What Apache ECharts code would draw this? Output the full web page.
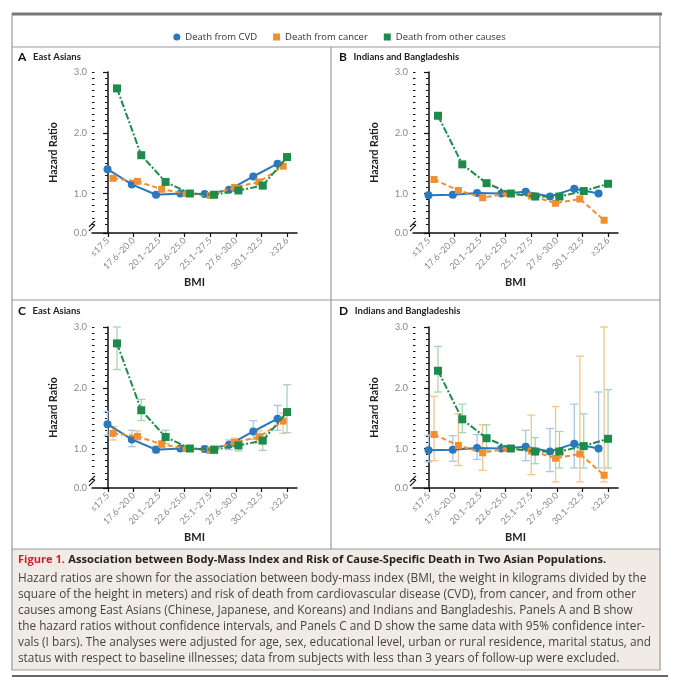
<!DOCTYPE html>
<html><head><meta charset="utf-8">
<script src="https://cdn.jsdelivr.net/npm/echarts@6/dist/echarts.min.js"></script>
<style>html,body{margin:0;padding:0;background:#fff}#c{width:679px;height:680px}</style>
</head><body><div id="c"></div>
<script>
// ---------- data ----------
const categories = ['≤17.5', '17.6–20.0', '20.1–22.5', '22.6–25.0', '25.1–27.5', '27.6–30.0', '30.1–32.5', '≥32.6'];
const seriesNames = ['Death from CVD', 'Death from cancer', 'Death from other causes'];
const yTickLabels = ['0.0', '1.0', '2.0', '3.0'];

// East Asians: hazard ratios
const eaCVD    = [1.40, 1.15, 0.98, 1.00, 0.99, 1.06, 1.28, 1.49];
const eaCancer = [1.25, 1.20, 1.07, 1.00, 0.97, 1.10, 1.19, 1.45];
const eaOther  = [2.73, 1.63, 1.19, 1.00, 0.98, 1.05, 1.13, 1.60];
// East Asians: 95% CI
const eaCVDLow     = [1.22, 1.03, 0.93, null, 0.94, 0.98, 1.15, 1.30];
const eaCVDHigh    = [1.61, 1.30, 1.04, null, 1.04, 1.14, 1.46, 1.71];
const eaCancerLow  = [1.14, 1.12, 1.01, null, 0.92, 1.03, 1.09, 1.25];
const eaCancerHigh = [1.36, 1.29, 1.13, null, 1.02, 1.17, 1.29, 1.58];
const eaOtherLow   = [2.30, 1.46, 1.08, null, 0.92, 0.96, 0.97, 1.26];
const eaOtherHigh  = [3.00, 1.81, 1.30, null, 1.04, 1.13, 1.24, 2.05];

// Indians and Bangladeshis: hazard ratios
const ibCVD    = [0.97, 0.98, 1.01, 1.00, 1.03, 0.95, 1.08, 1.00];
const ibCancer = [1.23, 1.05, 0.93, 1.00, 0.96, 0.84, 0.91, 0.56];
const ibOther  = [2.28, 1.48, 1.17, 1.00, 0.95, 0.95, 1.04, 1.16];
// Indians and Bangladeshis: 95% CI
const ibCVDLow     = [0.78, 0.79, 0.82, null, 0.80, 0.62, 0.68, 0.68];
const ibCVDHigh    = [1.22, 1.21, 1.23, null, 1.30, 1.33, 1.73, 1.93];
const ibCancerLow  = [0.80, 0.72, 0.64, null, 0.57, 0.45, 0.45, 0.45];
const ibCancerHigh = [1.86, 1.57, 1.39, null, 1.55, 1.69, 2.52, 3.00];
const ibOtherLow   = [1.93, 1.26, 0.97, null, 0.75, 0.68, 0.68, 0.68];
const ibOtherHigh  = [2.68, 1.73, 1.39, null, 1.18, 1.28, 1.57, 1.97];

// ---------- styling ----------
const FONT = 'Lato';
const CAP_FONT = 'Open Sans';
const colors = ['#2a78bd', '#ef8f2f', '#1e8a4c'];
const lightColors = ['#a9c7e4', '#f4c48f', '#a7d3b1'];
const xOffsets = [0, 0.23, 0.39];      // small horizontal dodge of the three series
const Y_MIN = 0.35, Y_MAX = 3.0;        // axis is broken below 1.0; bottom labelled 0.0

const panels = [
  {letter: 'A', title: 'East Asians', left: 92, top: 72, data: [eaCVD, eaCancer, eaOther], ci: null, tx: 18, ty: 51},
  {letter: 'B', title: 'Indians and Bangladeshis', left: 413, top: 72, data: [ibCVD, ibCancer, ibOther], ci: null, tx: 339, ty: 51},
  {letter: 'C', title: 'East Asians', left: 92, top: 327, data: [eaCVD, eaCancer, eaOther],
   ci: [[eaCVDLow, eaCVDHigh], [eaCancerLow, eaCancerHigh], [eaOtherLow, eaOtherHigh]], tx: 18, ty: 305},
  {letter: 'D', title: 'Indians and Bangladeshis', left: 413, top: 327, data: [ibCVD, ibCancer, ibOther],
   ci: [[ibCVDLow, ibCVDHigh], [ibCancerLow, ibCancerHigh], [ibOtherLow, ibOtherHigh]], tx: 339, ty: 305}
];
const GW = 205, GH = 161;

const minorTicks = [];
for (let k = 5; k <= 30; k++) minorTicks.push(k / 10);
const majorTicks = [Y_MIN, 1, 2, 3];

const grids = [], xAxes = [], yAxes = [], series = [];
const lineTypes = ['solid', [5, 3], [7, 2, 2, 2]];
const symbols = ['circle', 'rect', 'rect'];
const symbolSizes = [8, 7, 8];

function errorBarItem(params, api) {
  const x = api.value(0), lo = api.value(1), hi = api.value(2);
  const p1 = api.coord([x, hi]), p2 = api.coord([x, lo]);
  const w = 4;
  const style = {stroke: api.visual('color'), lineWidth: 1.3, fill: null};
  return {type: 'group', children: [
    {type: 'line', shape: {x1: p1[0], y1: p1[1], x2: p2[0], y2: p2[1]}, style},
    {type: 'line', shape: {x1: p1[0] - w, y1: p1[1], x2: p1[0] + w, y2: p1[1]}, style},
    {type: 'line', shape: {x1: p2[0] - w, y1: p2[1], x2: p2[0] + w, y2: p2[1]}, style}
  ]};
}

panels.forEach((p, g) => {
  grids.push({left: p.left, top: p.top, width: GW, height: GH, containLabel: false});
  // visible category-label axis (ticks at integer positions)
  xAxes.push({
    type: 'value', gridIndex: g, min: -0.626, max: 7.39,
    name: 'BMI', nameLocation: 'middle', nameGap: 44,
    nameTextStyle: {fontFamily: FONT, fontSize: 11, fontWeight: 'bold', color: '#222'},
    axisLine: {show: true, onZero: false, lineStyle: {color: '#111', width: 1.5}},
    axisTick: {show: true, length: 4, lineStyle: {color: '#111', width: 1.2}, customValues: categories.map((c, i) => i)},
    axisLabel: {show: true, rotate: 45, fontFamily: FONT, fontSize: 9, color: '#8a8a8a', margin: 6,
      customValues: categories.map((c, i) => i), formatter: v => categories[Math.round(v)]},
    splitLine: {show: false}
  });
  // hidden data axis used for the marks
  xAxes.push({type: 'value', gridIndex: g, min: -0.638, max: 7.80, show: false});
  // main y axis
  yAxes.push({
    type: 'value', gridIndex: g, min: Y_MIN, max: Y_MAX, position: 'left',
    name: 'Hazard Ratio', nameLocation: 'middle', nameGap: 33,
    nameTextStyle: {fontFamily: FONT, fontSize: 10.5, fontWeight: 'bold', color: '#222'},
    axisLine: {show: true, lineStyle: {color: '#111', width: 1.5}},
    axisTick: {show: true, length: 5, lineStyle: {color: '#111', width: 1.2}, customValues: majorTicks},
    axisLabel: {show: true, fontFamily: FONT, fontSize: 9.5, color: '#8a8a8a', margin: 5,
      customValues: majorTicks, formatter: v => yTickLabels[majorTicks.indexOf(v)]},
    splitLine: {show: false}
  });
  // minor ticks (outside + inside so they cross the axis)
  yAxes.push({type: 'value', gridIndex: g, min: Y_MIN, max: Y_MAX, position: 'left',
    axisLine: {show: false}, axisLabel: {show: false}, splitLine: {show: false},
    axisTick: {show: true, length: 2.5, lineStyle: {color: '#111', width: 1}, customValues: minorTicks}});
  yAxes.push({type: 'value', gridIndex: g, min: Y_MIN, max: Y_MAX, position: 'left',
    axisLine: {show: false}, axisLabel: {show: false}, splitLine: {show: false},
    axisTick: {show: true, inside: true, length: 2.5, lineStyle: {color: '#111', width: 1}, customValues: minorTicks}});

  // error bars
  if (p.ci) {
    p.ci.forEach((pair, s) => {
      const d = categories.map((c, i) => pair[0][i] == null ? null : [i + xOffsets[s], pair[0][i], pair[1][i]]).filter(Boolean);
      series.push({
        type: 'custom', name: seriesNames[s] + ' CI', xAxisIndex: 2 * g + 1, yAxisIndex: 3 * g,
        renderItem: errorBarItem, itemStyle: {color: lightColors[s]}, encode: {x: 0, y: [1, 2]},
        data: d, z: 1, silent: true
      });
    });
  }
  // lines + markers
  p.data.forEach((vals, s) => {
    series.push({
      type: 'line', name: seriesNames[s], xAxisIndex: 2 * g + 1, yAxisIndex: 3 * g,
      data: vals.map((v, i) => [i + xOffsets[s], v]),
      symbol: symbols[s], symbolSize: symbolSizes[s], showSymbol: true,
      itemStyle: {color: colors[s]}, lineStyle: {color: colors[s], width: 2, type: lineTypes[s]},
      z: 3 + s, animation: false
    });
  });
});

const chart = echarts.init(document.getElementById('c'), null, {renderer: 'canvas'});
chart.setOption({
  backgroundColor: '#ffffff',
  animation: false,
  legend: {
    top: 27, left: 'center', itemWidth: 7, itemHeight: 7, itemGap: 16,
    textStyle: {fontFamily: CAP_FONT, fontSize: 9.5, color: '#333'},
    data: [{name: seriesNames[0], icon: 'circle'}, {name: seriesNames[1], icon: 'rect'}, {name: seriesNames[2], icon: 'rect'}]
  },
  grid: grids, xAxis: xAxes, yAxis: yAxes, series: series
});

// ---------- frame, titles, caption, axis-break marks ----------
const g = [];
g.push({type: 'rect', shape: {x: 12, y: 549, width: 648, height: 121}, style: {fill: '#f0ece5', stroke: null}, z: -10});
g.push({type: 'rect', shape: {x: 12, y: 14, width: 648, height: 656}, style: {fill: null, stroke: '#9a9a9a', lineWidth: 1.2}, z: 10});
g.push({type: 'line', shape: {x1: 12, y1: 14, x2: 662, y2: 14}, style: {stroke: '#777', lineWidth: 3}, z: 11});
g.push({type: 'line', shape: {x1: 12, y1: 47, x2: 660, y2: 47}, style: {stroke: '#9a9a9a', lineWidth: 1.2}, z: 10});
g.push({type: 'line', shape: {x1: 12, y1: 300, x2: 660, y2: 300}, style: {stroke: '#9a9a9a', lineWidth: 1.2}, z: 10});
g.push({type: 'line', shape: {x1: 12, y1: 549, x2: 660, y2: 549}, style: {stroke: '#9a9a9a', lineWidth: 1.2}, z: 10});
g.push({type: 'line', shape: {x1: 331, y1: 47, x2: 331, y2: 549}, style: {stroke: '#9a9a9a', lineWidth: 1.2}, z: 10});
g.push({type: 'line', shape: {x1: 12, y1: 676, x2: 668, y2: 676}, style: {stroke: '#333', lineWidth: 1.5}, z: 10});

panels.forEach((p, i) => {
  g.push({type: 'text', left: p.tx, top: p.ty, z: 20, style: {
    text: '{l|' + p.letter + '}  {t|' + p.title + '}',
    rich: {l: {fontFamily: FONT, fontSize: 12, fontWeight: 'bold', fill: '#111'},
           t: {fontFamily: FONT, fontSize: 9.5, fontWeight: 'bold', fill: '#222'}}
  }});
  const pt = chart.convertToPixel({xAxisIndex: 2 * i, yAxisIndex: 3 * i}, [-0.626, 0.5]);
  [0, 4].forEach(dy => {
    g.push({type: 'line', z: 30, shape: {x1: pt[0] - 3, y1: pt[1] + 3 + dy, x2: pt[0] + 3, y2: pt[1] - 3 + dy},
      style: {stroke: '#111', lineWidth: 1.2}});
  });
});

const captionLines = [
  'Hazard ratios are shown for the association between body-mass index (BMI, the weight in kilograms divided by the',
  'square of the height in meters) and risk of death from cardiovascular disease (CVD), from cancer, and from other',
  'causes among East Asians (Chinese, Japanese, and Koreans) and Indians and Bangladeshis. Panels A and B show',
  'the hazard ratios without confidence intervals, and Panels C and D show the same data with 95% confidence inter-',
  'vals (I bars). The analyses were adjusted for age, sex, educational level, urban or rural residence, marital status, and',
  'status with respect to baseline illnesses; data from subjects with less than 3 years of follow-up were excluded.'
];
g.push({type: 'text', left: 18, top: 554, z: 20, style: {
  text: '{r|Figure 1.} {b|Association between Body-Mass Index and Risk of Cause-Specific Death in Two Asian Populations.}',
  rich: {r: {fontFamily: CAP_FONT, fontSize: 11.1, fontWeight: 'bold', fill: '#d0202e'},
         b: {fontFamily: CAP_FONT, fontSize: 11.1, fontWeight: 'bold', fill: '#222'}}
}});
g.push({type: 'text', left: 18, top: 571, z: 20, style: {
  text: captionLines.join('\n'), fontFamily: CAP_FONT, fontSize: 11.8, lineHeight: 16, fill: '#444'
}});

chart.setOption({graphic: g});
</script>
</body></html>
